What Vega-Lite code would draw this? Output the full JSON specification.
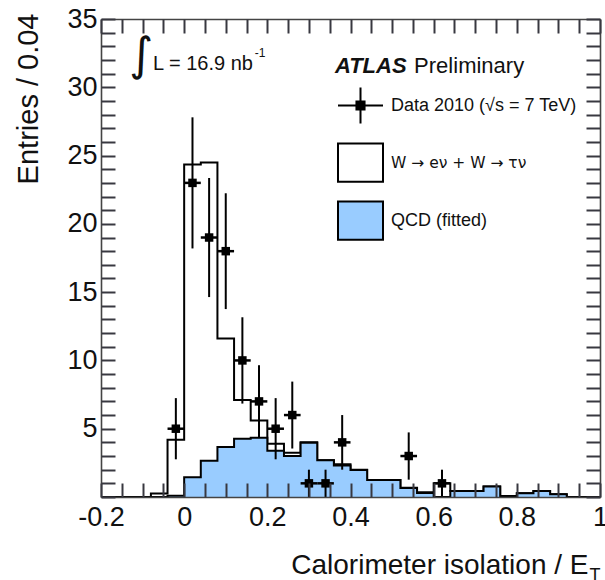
{
  "$schema": "https://vega.github.io/schema/vega-lite/v6.json",
  "width": 499,
  "height": 478,
  "autosize": {"type": "none"},
  "padding": {"left": 101, "top": 19, "right": 5, "bottom": 83},
  "background": "white",
  "config": {
    "font": "Liberation Sans",
    "view": {"stroke": null},
    "axis": {"domainColor": "#444", "domainWidth": 1.6, "labelColor": "#111", "titleColor": "#111", "titleFontWeight": "normal", "labelFont": "Liberation Sans", "titleFont": "Liberation Sans"}
  },
  "datasets": {
    "hist": [
      {"x": -0.2, "tot": 0, "qcd": 0, "series": "QCD (fitted)"},
      {"x": -0.16, "tot": 0, "qcd": 0, "series": "QCD (fitted)"},
      {"x": -0.12, "tot": 0, "qcd": 0, "series": "QCD (fitted)"},
      {"x": -0.08, "tot": 0.25, "qcd": 0, "series": "QCD (fitted)"},
      {"x": -0.04, "tot": 4.2, "qcd": 0.1, "series": "QCD (fitted)"},
      {"x": 0.0, "tot": 24.35, "qcd": 1.44, "series": "QCD (fitted)"},
      {"x": 0.04, "tot": 24.5, "qcd": 2.66, "series": "QCD (fitted)"},
      {"x": 0.08, "tot": 11.6, "qcd": 3.66, "series": "QCD (fitted)"},
      {"x": 0.12, "tot": 7.1, "qcd": 4.27, "series": "QCD (fitted)"},
      {"x": 0.16, "tot": 5.6, "qcd": 4.34, "series": "QCD (fitted)"},
      {"x": 0.2, "tot": 3.9, "qcd": 3.39, "series": "QCD (fitted)"},
      {"x": 0.24, "tot": 3.24, "qcd": 3.0, "series": "QCD (fitted)"},
      {"x": 0.28, "tot": 4.0, "qcd": 3.97, "series": "QCD (fitted)"},
      {"x": 0.32, "tot": 2.7, "qcd": 2.7, "series": "QCD (fitted)"},
      {"x": 0.36, "tot": 2.4, "qcd": 2.3, "series": "QCD (fitted)"},
      {"x": 0.4, "tot": 2.0, "qcd": 1.98, "series": "QCD (fitted)"},
      {"x": 0.44, "tot": 1.24, "qcd": 1.24, "series": "QCD (fitted)"},
      {"x": 0.48, "tot": 1.24, "qcd": 1.24, "series": "QCD (fitted)"},
      {"x": 0.52, "tot": 0.68, "qcd": 0.66, "series": "QCD (fitted)"},
      {"x": 0.56, "tot": 0.34, "qcd": 0.3, "series": "QCD (fitted)"},
      {"x": 0.6, "tot": 1.0, "qcd": 0, "series": "QCD (fitted)"},
      {"x": 0.64, "tot": 0.44, "qcd": 0.44, "series": "QCD (fitted)"},
      {"x": 0.68, "tot": 0.44, "qcd": 0.44, "series": "QCD (fitted)"},
      {"x": 0.72, "tot": 0.76, "qcd": 0.76, "series": "QCD (fitted)"},
      {"x": 0.76, "tot": 0.07, "qcd": 0, "series": "QCD (fitted)"},
      {"x": 0.8, "tot": 0.27, "qcd": 0.27, "series": "QCD (fitted)"},
      {"x": 0.84, "tot": 0.44, "qcd": 0.44, "series": "QCD (fitted)"},
      {"x": 0.88, "tot": 0.2, "qcd": 0.2, "series": "QCD (fitted)"},
      {"x": 0.92, "tot": 0, "qcd": 0, "series": "QCD (fitted)"},
      {"x": 0.96, "tot": 0, "qcd": 0, "series": "QCD (fitted)"},
      {"x": 1.0, "tot": 0, "qcd": 0, "series": "QCD (fitted)"}
    ],
    "pts": [
      {"x": -0.02, "n": 5, "lo": 2.76, "hi": 7.24, "xlo": -0.04, "xhi": 0.0},
      {"x": 0.02, "n": 23, "lo": 18.2, "hi": 27.8, "xlo": 0.0, "xhi": 0.04},
      {"x": 0.06, "n": 19, "lo": 14.64, "hi": 23.36, "xlo": 0.04, "xhi": 0.08},
      {"x": 0.1, "n": 18, "lo": 13.76, "hi": 22.24, "xlo": 0.08, "xhi": 0.12},
      {"x": 0.14, "n": 10, "lo": 6.84, "hi": 13.16, "xlo": 0.12, "xhi": 0.16},
      {"x": 0.18, "n": 7, "lo": 4.35, "hi": 9.65, "xlo": 0.16, "xhi": 0.2},
      {"x": 0.22, "n": 5, "lo": 2.76, "hi": 7.24, "xlo": 0.2, "xhi": 0.24},
      {"x": 0.26, "n": 6, "lo": 3.55, "hi": 8.45, "xlo": 0.24, "xhi": 0.28},
      {"x": 0.3, "n": 1, "lo": 0, "hi": 2, "xlo": 0.28, "xhi": 0.32},
      {"x": 0.34, "n": 1, "lo": 0, "hi": 2, "xlo": 0.32, "xhi": 0.36},
      {"x": 0.38, "n": 4, "lo": 2, "hi": 6, "xlo": 0.36, "xhi": 0.4},
      {"x": 0.54, "n": 3, "lo": 1.27, "hi": 4.73, "xlo": 0.52, "xhi": 0.56},
      {"x": 0.62, "n": 1, "lo": 0, "hi": 2, "xlo": 0.6, "xhi": 0.64}
    ]
  },
  "resolve": {"axis": {"x": "independent", "y": "independent"}},
  "layer": [
    {
      "data": {"name": "hist"},
      "mark": {"type": "line", "interpolate": "step-after", "color": "black", "strokeWidth": 2, "clip": true},
      "encoding": {
        "x": {"field": "x", "type": "quantitative", "scale": {"domain": [-0.2, 1], "nice": false, "zero": false},
          "axis": {"orient": "bottom", "values": [-0.2, 0, 0.2, 0.4, 0.6, 0.8, 1], "ticks": false, "grid": false, "domain": true, "zindex": 1, "labelFontSize": 27, "labelPadding": 7, "labelFlush": false, "labelOverlap": false,
            "labelExpr": "replace(format(datum.value, '~g'), '\u2212', '-')",
            "title": "Calorimeter isolation / E", "titleFontSize": 28, "titleX": 487, "titleY": 76, "titleAlign": "right", "titleBaseline": "alphabetic"}},
        "y": {"field": "tot", "type": "quantitative", "scale": {"domain": [0, 35], "nice": false},
          "axis": {"orient": "left", "values": [5, 10, 15, 20, 25, 30, 35], "ticks": false, "grid": false, "domain": true, "zindex": 1, "labelFontSize": 27, "labelPadding": 4, "labelFlush": false, "labelOverlap": false,
            "title": "Entries / 0.04", "titleFontSize": 29, "titleX": -64, "titleY": -6, "titleAlign": "right", "titleBaseline": "alphabetic", "titleAngle": 270}}
      }
    },
    {
      "data": {"name": "hist"},
      "mark": {"type": "area", "interpolate": "step-after", "opacity": 1, "clip": true},
      "encoding": {
        "x": {"field": "x", "type": "quantitative", "scale": {"domain": [-0.2, 1], "nice": false, "zero": false},
          "axis": {"orient": "bottom", "offset": -14, "tickCount": 24, "ticks": true, "tickSize": 14, "tickColor": "#383840", "tickWidth": 2, "tickOpacity": 1, "grid": false, "labels": false, "domain": false, "title": null, "zindex": 2,
            "encode": {"ticks": {"update": {"y": {"signal": "abs(datum.value * 5 - round(datum.value * 5)) < 0.000001 ? 0 : 7"}}}}}},
        "y": {"field": "qcd", "type": "quantitative", "stack": null, "scale": {"domain": [0, 35], "nice": false},
          "axis": {"orient": "left", "offset": -14, "tickCount": 35, "ticks": true, "tickSize": 14, "tickColor": "#383840", "tickWidth": 2, "tickOpacity": 1, "grid": false, "labels": false, "domain": false, "title": null, "zindex": 2,
            "encode": {"ticks": {"update": {"x": {"signal": "datum.value % 5 === 0 ? 0 : -7"}}}}}},
        "fill": {"field": "series", "type": "nominal",
          "scale": {"domain": ["Data 2010 (\u221as = 7 TeV)", "W \u2192 e\u03bd + W \u2192 \u03c4\u03bd", "QCD (fitted)"], "range": ["black", "white", "#99CCFF"]},
          "legend": {"orient": "none", "legendX": 236, "legendY": 63, "title": null, "padding": 0, "symbolSize": 2025, "symbolOpacity": 1, "symbolStrokeWidth": 2, "symbolStrokeColor": "black",
            "labelFontSize": 18, "labelFont": "Liberation Sans", "labelColor": "#111", "labelOffset": 7, "rowPadding": 11, "labelLimit": 300,
            "encode": {
              "symbols": {"update": {
                "shape": {"signal": "datum.index === 0 ? 'M-1,0H1M0,-0.8V0.8M-0.18,-0.18H0.18V0.18H-0.18Z' : 'M-1,-0.85H1V0.85H-1Z'"},
                "stroke": {"value": "black"}, "strokeWidth": {"value": 2}, "opacity": {"value": 1}, "fillOpacity": {"value": 1}}},
              "labels": {"update": {
                "font": {"signal": "datum.index === 1 ? 'DejaVu Sans' : 'Liberation Sans'"},
                "fontSize": {"signal": "datum.index === 1 ? 15.5 : 18"}}}}}}
      }
    },
    {
      "data": {"name": "hist"},
      "mark": {"type": "line", "interpolate": "step-after", "color": "black", "strokeWidth": 2, "clip": true},
      "encoding": {
        "x": {"field": "x", "type": "quantitative", "scale": {"domain": [-0.2, 1], "nice": false, "zero": false}, "axis": null},
        "y": {"field": "qcd", "type": "quantitative", "scale": {"domain": [0, 35], "nice": false}, "axis": null}
      }
    },
    {
      "data": {"name": "pts"},
      "mark": {"type": "rule", "color": "black", "strokeWidth": 2},
      "encoding": {
        "x": {"field": "x", "type": "quantitative", "scale": {"domain": [-0.2, 1], "nice": false, "zero": false},
          "axis": {"orient": "top", "offset": -14, "tickCount": 24, "ticks": true, "tickSize": 14, "tickColor": "#383840", "tickWidth": 2, "tickOpacity": 1, "grid": false, "labels": false, "domain": false, "title": null, "zindex": 2,
            "encode": {"ticks": {"update": {"y": {"signal": "abs(datum.value * 5 - round(datum.value * 5)) < 0.000001 ? 0 : -7"}}}}}},
        "y": {"field": "lo", "type": "quantitative", "scale": {"domain": [0, 35], "nice": false},
          "axis": {"orient": "right", "offset": -14, "tickCount": 35, "ticks": true, "tickSize": 14, "tickColor": "#383840", "tickWidth": 2, "tickOpacity": 1, "grid": false, "labels": false, "domain": false, "title": null, "zindex": 2,
            "encode": {"ticks": {"update": {"x": {"signal": "datum.value % 5 === 0 ? 0 : 7"}}}}}},
        "y2": {"field": "hi"}
      }
    },
    {
      "data": {"name": "pts"},
      "mark": {"type": "rule", "color": "black", "strokeWidth": 2.5},
      "encoding": {
        "x": {"field": "xlo", "type": "quantitative", "scale": {"domain": [-0.2, 1], "nice": false, "zero": false}, "axis": null},
        "x2": {"field": "xhi"},
        "y": {"field": "n", "type": "quantitative", "scale": {"domain": [0, 35], "nice": false}, "axis": null}
      }
    },
    {
      "data": {"name": "pts"},
      "mark": {"type": "point", "shape": "square", "filled": true, "color": "black", "size": 72, "opacity": 1},
      "encoding": {
        "x": {"field": "x", "type": "quantitative", "scale": {"domain": [-0.2, 1], "nice": false, "zero": false},
          "axis": {"orient": "top", "ticks": false, "grid": false, "labels": false, "domain": true, "title": null, "zindex": 1}},
        "y": {"field": "n", "type": "quantitative", "scale": {"domain": [0, 35], "nice": false},
          "axis": {"orient": "right", "ticks": false, "grid": false, "labels": false, "domain": true, "title": null, "zindex": 1}}
      }
    },
    {
      "data": {"values": [{}]},
      "mark": {"type": "text", "text": "\u222b", "font": "DejaVu Sans", "fontSize": 46, "align": "center", "baseline": "middle", "color": "#111"},
      "encoding": {
        "x": {"datum": -0.103, "type": "quantitative", "scale": {"domain": [-0.2, 1], "nice": false, "zero": false},
          "axis": {"orient": "bottom", "ticks": false, "grid": false, "labels": false, "domain": false, "title": "T", "titleFontSize": 18, "titleX": 499, "titleY": 83, "titleAlign": "right", "titleBaseline": "alphabetic"}},
        "y": {"datum": 32.28, "type": "quantitative", "scale": {"domain": [0, 35], "nice": false}, "axis": null}
      }
    },
    {
      "data": {"values": [{}]},
      "mark": {"type": "text", "text": "L = 16.9 nb", "fontSize": 20, "align": "left", "baseline": "alphabetic", "color": "#111"},
      "encoding": {
        "x": {"datum": -0.075, "type": "quantitative", "scale": {"domain": [-0.2, 1], "nice": false, "zero": false}, "axis": null},
        "y": {"datum": 31.26, "type": "quantitative", "scale": {"domain": [0, 35], "nice": false}, "axis": null}
      }
    },
    {
      "data": {"values": [{}]},
      "mark": {"type": "text", "text": "-1", "fontSize": 12, "align": "left", "baseline": "alphabetic", "color": "#111"},
      "encoding": {
        "x": {"datum": 0.17, "type": "quantitative", "scale": {"domain": [-0.2, 1], "nice": false, "zero": false}, "axis": null},
        "y": {"datum": 32.21, "type": "quantitative", "scale": {"domain": [0, 35], "nice": false}, "axis": null}
      }
    },
    {
      "data": {"values": [{}]},
      "mark": {"type": "text", "text": "ATLAS", "fontSize": 22, "fontWeight": "bold", "fontStyle": "italic", "align": "left", "baseline": "alphabetic", "color": "#111"},
      "encoding": {
        "x": {"datum": 0.3625, "type": "quantitative", "scale": {"domain": [-0.2, 1], "nice": false, "zero": false}, "axis": null},
        "y": {"datum": 31.04, "type": "quantitative", "scale": {"domain": [0, 35], "nice": false}, "axis": null}
      }
    },
    {
      "data": {"values": [{}]},
      "mark": {"type": "text", "text": "Preliminary", "fontSize": 22, "align": "left", "baseline": "alphabetic", "color": "#111"},
      "encoding": {
        "x": {"datum": 0.553, "type": "quantitative", "scale": {"domain": [-0.2, 1], "nice": false, "zero": false}, "axis": null},
        "y": {"datum": 31.04, "type": "quantitative", "scale": {"domain": [0, 35], "nice": false}, "axis": null}
      }
    }
  ]
}
